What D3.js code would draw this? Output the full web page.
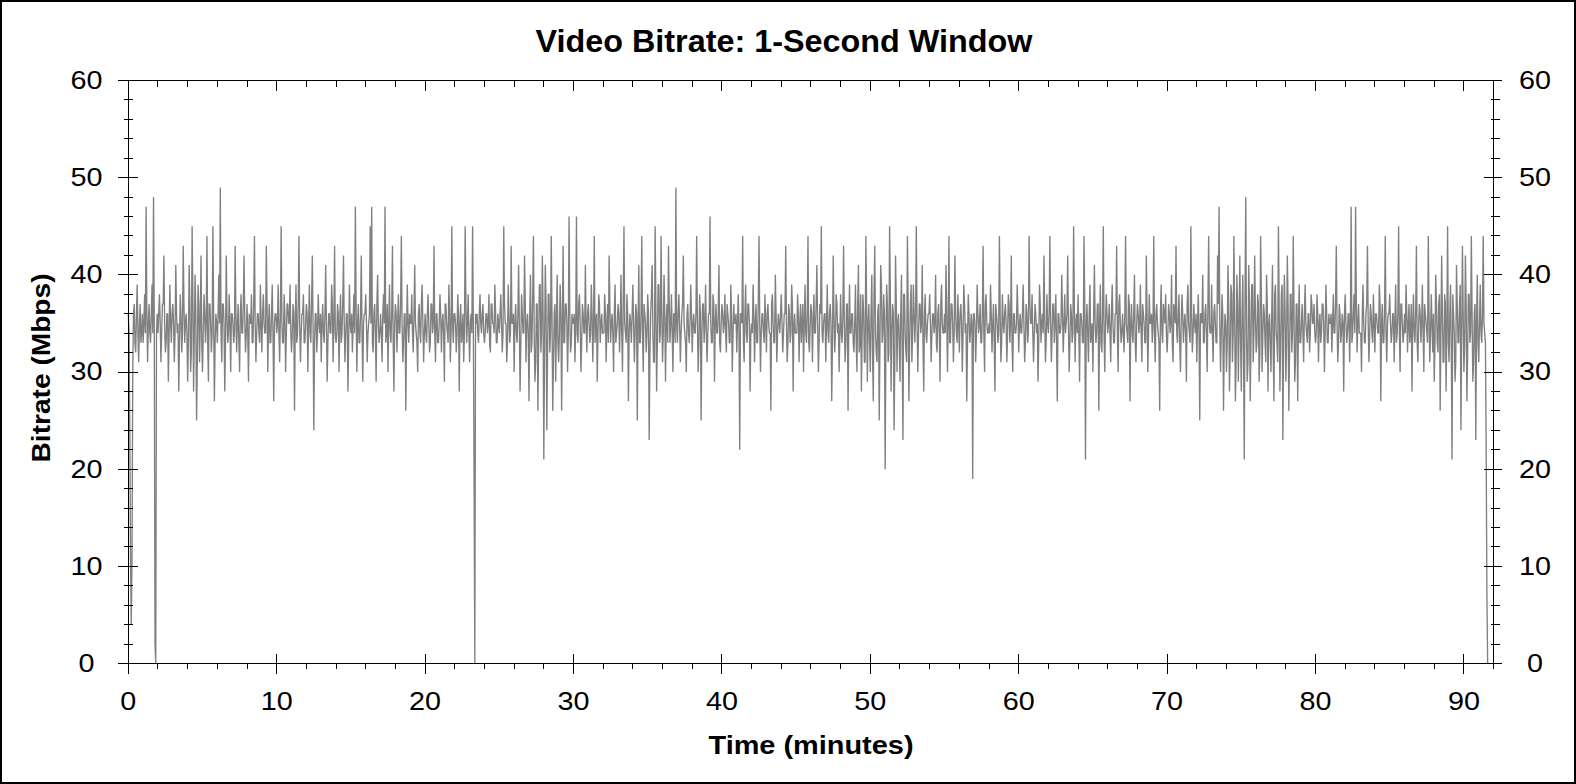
<!DOCTYPE html>
<html><head><meta charset="utf-8">
<script src="https://cdn.jsdelivr.net/npm/d3@7"></script>
<style>html,body{margin:0;padding:0;background:#fff;} svg{display:block;}</style>
</head><body><svg id="c" width="1576" height="784"></svg>
<script>
const chartTitle = "Video Bitrate: 1-Second Window";
const xTitle = "Time (minutes)";
const yTitle = "Bitrate (Mbps)";
const sampleStepMin = 0.05;
const xMajorTicks = [0, 10, 20, 30, 40, 50, 60, 70, 80, 90];
const yMajorTicks = [0, 10, 20, 30, 40, 50, 60];
const xMinorTicks = [2,4,6,8,12,14,16,18,22,24,26,28,32,34,36,38,42,44,46,48,52,54,56,58,62,64,66,68,72,74,76,78,82,84,86,88,92];
const yMinorTicks = [2,4,6,8,12,14,16,18,22,24,26,28,32,34,36,38,42,44,46,48,52,54,56,58];
// bitrate in Mbps, one value every 0.05 minute (one row = one minute)
const bitrate = [
36,34,24,11,4,11,30,36,37,33,32,36,39,34,31,35,37,33,34,36,
33,35,38,34,47,36,31,35,37,34,33,36,39,34,48,35,2,0,34,36,
34,36,38,35,31,34,37,37,42,35,32,33,36,36,29,34,39,35,33,36,
37,35,31,34,41,36,34,35,28,33,38,36,32,34,43,37,33,35,36,34,
29,33,41,37,30,32,45,38,28,34,40,36,25,31,39,37,31,35,42,33,
30,34,38,36,33,35,44,33,29,37,37,35,32,34,45,36,27,33,36,35,
33,36,40,35,49,34,31,37,37,35,28,33,42,36,33,34,38,35,30,36,
36,35,33,34,43,36,32,35,37,33,30,36,38,34,34,37,42,35,32,34,
37,34,29,36,35,35,38,33,33,37,44,35,31,34,36,36,34,33,39,35,
32,36,38,35,34,34,43,37,30,35,37,33,33,36,39,34,27,35,36,36,
34,35,39,34,31,36,45,35,33,33,38,36,30,34,37,37,35,35,39,34,
32,34,37,36,26,35,39,33,34,37,44,35,31,34,36,36,38,33,33,35,
37,36,30,35,39,34,33,37,42,35,24,33,36,36,32,34,38,35,34,36,
31,35,37,34,33,36,41,35,29,33,36,36,34,34,39,37,31,35,43,34,
33,34,37,36,30,35,38,33,34,37,42,35,31,34,36,36,28,33,39,35,
34,36,32,35,38,34,47,37,30,35,37,33,33,36,42,34,29,35,36,36,
38,35,31,34,35,36,45,35,47,33,32,36,37,34,29,37,40,35,33,34,
36,34,31,36,38,35,47,33,34,37,30,35,39,34,33,36,43,33,28,35,
37,36,32,35,38,34,34,37,44,35,31,33,36,36,26,34,39,35,33,36,
35,35,38,34,32,36,41,35,34,33,30,36,37,34,33,37,39,35,31,34,
36,34,33,36,38,35,32,33,37,37,34,35,43,34,31,36,36,33,33,35,
38,36,32,35,36,34,29,37,37,35,34,33,39,36,31,34,45,35,33,36,
36,35,32,34,38,36,28,35,37,33,34,36,31,34,45,37,33,35,38,34,
31,35,36,34,45,35,19,0,36,35,36,34,33,36,38,35,34,36,37,34,
33,34,36,36,34,35,38,33,32,37,37,35,35,34,39,36,33,33,36,35,
34,36,38,35,32,34,45,37,35,35,31,33,39,36,33,34,43,35,35,36,
30,35,37,34,33,36,41,35,28,33,38,36,34,34,42,37,31,35,36,34,
27,36,40,32,33,38,44,34,29,31,37,37,26,33,39,39,32,34,42,36,
21,33,41,37,24,32,38,38,32,34,44,36,26,31,36,37,29,35,40,33,
31,34,39,36,26,35,43,33,33,37,37,35,30,34,46,36,32,33,36,35,
35,36,31,35,46,34,33,37,38,35,30,33,37,36,34,34,41,35,32,36,
37,35,33,34,39,36,31,35,44,33,35,36,29,34,38,37,33,35,36,34,
34,34,38,36,31,35,37,33,42,37,33,35,36,34,30,36,39,33,34,35,
37,36,32,35,40,34,30,37,45,35,34,33,38,36,27,34,36,35,33,36,
39,35,31,34,37,36,25,35,41,33,33,36,44,34,30,37,36,35,32,34,
38,36,23,32,36,38,41,34,31,31,45,37,28,33,39,39,33,34,44,36,
31,34,40,36,29,35,37,33,43,37,33,35,38,34,30,36,36,33,49,35,
33,36,38,35,31,34,36,37,42,35,34,33,30,36,37,34,33,35,39,36,
32,35,36,34,34,36,44,35,30,33,38,36,25,34,37,37,33,35,39,34,
31,34,36,36,46,35,33,33,38,37,29,35,37,34,34,36,41,33,32,35,
37,36,34,35,38,34,32,37,36,35,33,33,39,36,30,34,37,35,35,36,
32,35,38,34,22,36,36,35,44,33,31,36,39,34,33,37,37,35,28,34,
35,34,39,36,31,35,37,33,33,37,44,35,30,34,36,36,34,33,38,35,
32,36,37,35,34,34,26,37,38,35,33,33,40,36,31,34,36,35,34,36,
38,35,32,34,36,36,43,35,31,33,37,36,33,34,39,37,28,35,36,34,
34,34,38,36,31,35,37,33,35,37,30,35,39,34,33,36,44,33,32,35,
37,36,31,35,38,34,34,37,41,35,30,33,37,36,45,34,33,35,36,36,
31,35,39,34,33,36,37,35,27,33,42,36,32,34,38,37,34,35,30,34,
38,34,33,36,43,35,31,33,37,37,26,35,39,34,34,36,36,33,32,35,
39,33,30,37,41,32,33,38,28,34,38,36,31,31,44,37,29,35,37,33,
30,36,40,32,27,38,43,34,32,31,36,37,25,33,41,39,33,34,38,36,
20,33,39,37,31,32,45,38,28,34,37,36,24,31,42,37,30,35,36,33,
29,36,40,32,23,38,38,34,32,31,44,37,27,33,37,39,31,34,39,36,
33,36,45,35,30,34,37,37,34,35,41,33,28,36,38,34,33,35,36,36,
38,35,31,34,36,36,34,35,40,33,32,36,37,34,29,37,39,35,34,34,
36,34,41,36,30,35,44,33,33,37,37,35,31,34,42,36,34,33,38,35,
32,36,37,35,30,34,39,37,34,35,27,33,38,36,33,34,36,35,19,36,
36,35,31,34,39,36,34,35,37,33,33,36,43,34,30,37,38,35,34,34,
35,34,39,36,32,35,37,33,28,37,36,35,33,34,44,36,31,33,38,35,
34,36,37,35,31,34,38,37,33,35,42,33,30,36,36,34,34,35,39,36,
32,35,36,34,34,36,39,35,31,33,37,36,33,34,44,37,35,35,38,34,
31,34,37,36,34,35,29,33,39,37,33,35,36,34,42,36,31,33,38,35,
34,36,44,35,31,34,37,37,33,35,38,33,27,36,36,34,34,35,40,36,
32,35,38,34,35,36,42,35,30,33,37,36,33,34,45,37,31,35,36,34,
38,34,29,36,36,35,33,33,44,37,21,35,37,34,31,36,39,33,34,35,
30,36,41,35,33,34,37,37,26,35,39,33,32,36,45,34,30,35,38,36,
34,35,37,34,31,36,39,35,33,33,36,36,43,34,30,37,38,35,33,34,
36,34,32,36,44,35,34,33,38,37,27,35,37,34,33,36,40,33,31,35,
37,36,34,35,39,34,31,37,36,35,33,33,42,36,30,34,38,35,35,36,
33,35,44,34,31,36,37,35,34,33,26,36,39,34,33,37,36,35,38,34,
32,34,37,36,34,35,40,33,31,37,36,35,43,34,33,36,38,33,30,35,
38,36,33,35,36,34,29,37,39,35,34,33,45,36,32,34,37,35,34,36,
31,35,38,34,25,36,36,35,40,33,33,36,37,34,30,37,44,35,34,34,
39,34,31,36,37,35,33,33,42,37,47,35,30,34,38,36,26,33,36,35,
30,33,41,37,28,32,39,38,31,34,44,36,27,31,40,37,29,35,42,33,
28,36,40,32,21,38,48,34,29,31,41,37,27,33,39,39,31,34,42,36,
32,33,38,37,29,32,44,38,30,34,37,36,33,31,40,37,28,35,36,33,
30,36,41,32,27,38,39,34,33,31,45,37,28,33,38,39,23,34,40,36,
29,33,42,37,26,32,38,38,32,34,44,36,29,31,37,37,27,35,39,33,
33,35,37,34,31,36,39,35,34,33,36,36,32,34,38,37,35,35,37,34,
33,34,38,36,31,35,36,33,34,37,37,35,30,34,39,36,33,33,36,35,
35,36,32,35,38,34,34,37,43,35,31,33,37,36,33,34,36,35,28,36,
38,35,33,34,36,36,31,35,47,33,34,36,38,34,47,37,32,35,37,34,
34,34,30,36,39,35,33,33,36,37,43,35,31,34,37,36,34,33,38,35,
32,36,36,35,34,34,39,37,27,35,37,33,33,36,44,34,31,35,36,36,
38,35,33,34,36,36,31,35,39,33,34,36,45,34,30,37,37,35,33,34,
36,34,39,36,32,35,37,33,34,37,28,35,38,34,33,36,43,33,31,35,
37,36,33,35,39,34,30,37,36,35,34,33,44,36,31,34,38,35,32,36,
29,33,40,37,33,32,37,38,26,34,42,36,31,31,38,37,28,35,45,33,
31,36,39,32,21,38,36,34,29,31,41,37,33,33,37,39,24,34,43,36,
30,33,42,37,27,32,38,38,33,34,44,36,29,31,36,37,23,35,40,33,
31,35,39,34,33,36,44,35,34,33,22,7,0
];

const svg = d3.select("#c");
const W = 1576, H = 784;
const X0 = 128.3, X1 = 1493.6, Y0 = 663.5, Y1 = 80.5;
const x = d3.scaleLinear().domain([0, 92]).range([X0, X1]);
const y = d3.scaleLinear().domain([0, 60]).range([Y0, Y1]);
const FONT = "'Liberation Sans', Arial, sans-serif";

svg.append("rect").attr("width", W).attr("height", H).attr("fill", "#fff");
svg.append("rect").attr("x", 1).attr("y", 1).attr("width", W - 2).attr("height", H - 2)
  .attr("fill", "none").attr("stroke", "#000").attr("stroke-width", 2);

// data line
const pts = bitrate.map((v, i) => [i * sampleStepMin, v]);
const line = d3.line().x(d => x(d[0])).y(d => y(d[1]));
svg.append("path").datum(pts).attr("d", line)
  .attr("fill", "none").attr("stroke", "#808080").attr("stroke-width", 1.35)
  .attr("stroke-linejoin", "miter").attr("stroke-miterlimit", 1);

// frame
const axG = svg.append("g").attr("stroke", "#000").attr("stroke-width", 1).attr("shape-rendering", "crispEdges");
axG.append("line").attr("x1", x(0)).attr("x2", x(92)).attr("y1", y(0)).attr("y2", y(0));
axG.append("line").attr("x1", x(0)).attr("x2", x(92)).attr("y1", y(60)).attr("y2", y(60));
axG.append("line").attr("x1", x(0)).attr("x2", x(0)).attr("y1", y(0)).attr("y2", y(60));
axG.append("line").attr("x1", x(92)).attr("x2", x(92)).attr("y1", y(0)).attr("y2", y(60));

// y ticks (left and right)
axG.selectAll(".ylM").data(yMajorTicks).join("line")
  .attr("x1", x(0) - 10).attr("x2", x(0) + 10).attr("y1", d => y(d)).attr("y2", d => y(d));
axG.selectAll(".ylm").data(yMinorTicks).join("line")
  .attr("x1", x(0) - 4).attr("x2", x(0) + 5).attr("y1", d => y(d)).attr("y2", d => y(d));
axG.selectAll(".yrM").data(yMajorTicks).join("line")
  .attr("x1", x(92) - 10).attr("x2", x(92) + 8).attr("y1", d => y(d)).attr("y2", d => y(d));
axG.selectAll(".yrm").data(yMinorTicks).join("line")
  .attr("x1", x(92) - 3).attr("x2", x(92) + 6).attr("y1", d => y(d)).attr("y2", d => y(d));
// x ticks (bottom and top)
axG.selectAll(".xbM").data(xMajorTicks).join("line")
  .attr("x1", d => x(d)).attr("x2", d => x(d)).attr("y1", y(0) - 10).attr("y2", y(0) + 10);
axG.selectAll(".xbm").data(xMinorTicks).join("line")
  .attr("x1", d => x(d)).attr("x2", d => x(d)).attr("y1", y(0)).attr("y2", y(0) + 5);
axG.selectAll(".xtM").data(xMajorTicks).join("line")
  .attr("x1", d => x(d)).attr("x2", d => x(d)).attr("y1", y(60)).attr("y2", y(60) + 10);
axG.selectAll(".xtm").data(xMinorTicks).join("line")
  .attr("x1", d => x(d)).attr("x2", d => x(d)).attr("y1", y(60)).attr("y2", y(60) + 6);

// tick labels
const tl = svg.append("g").attr("font-family", FONT).attr("font-size", 26).attr("fill", "#000").attr("text-anchor", "middle");
const tlen = d => String(d).length === 1 ? 16 : 32;
tl.selectAll(".yl").data(yMajorTicks).join("text")
  .attr("x", 86.5).attr("y", d => y(d) - 1).attr("dy", "0.36em")
  .attr("textLength", tlen).attr("lengthAdjust", "spacingAndGlyphs").text(d => d);
tl.selectAll(".yr").data(yMajorTicks).join("text")
  .attr("x", 1535).attr("y", d => y(d) - 1).attr("dy", "0.36em")
  .attr("textLength", tlen).attr("lengthAdjust", "spacingAndGlyphs").text(d => d);
tl.selectAll(".xb").data(xMajorTicks).join("text")
  .attr("x", d => x(d)).attr("y", 710)
  .attr("textLength", tlen).attr("lengthAdjust", "spacingAndGlyphs").text(d => d);

// titles
svg.append("text").attr("x", 784).attr("y", 51.5).attr("text-anchor", "middle")
  .attr("font-family", FONT).attr("font-weight", "bold").attr("font-size", 32)
  .attr("textLength", 497).attr("lengthAdjust", "spacingAndGlyphs").text(chartTitle);
svg.append("text").attr("x", 811).attr("y", 754.3).attr("text-anchor", "middle")
  .attr("font-family", FONT).attr("font-weight", "bold").attr("font-size", 25)
  .attr("textLength", 205).attr("lengthAdjust", "spacingAndGlyphs").text(xTitle);
svg.append("text").attr("transform", "translate(50,368) rotate(-90)").attr("text-anchor", "middle")
  .attr("font-family", FONT).attr("font-weight", "bold").attr("font-size", 25)
  .attr("textLength", 189).attr("lengthAdjust", "spacingAndGlyphs").text(yTitle);
</script></body></html>
